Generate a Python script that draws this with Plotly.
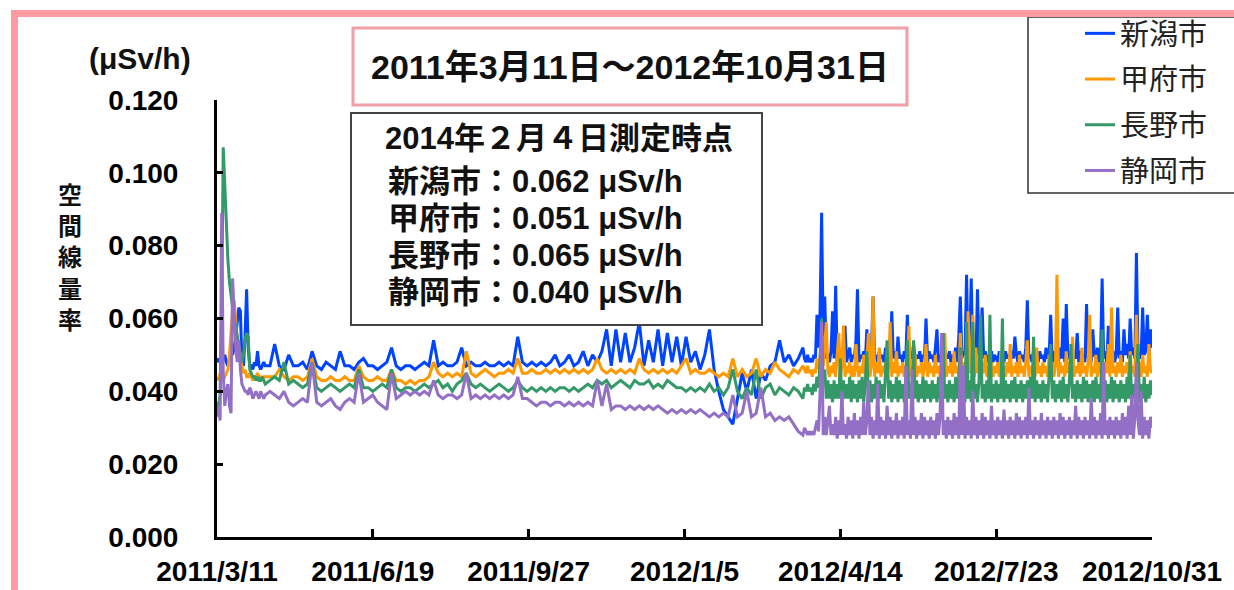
import pandas as pd
import numpy as np
import plotly.graph_objects as go

# ---------------- data (values in 0.001 μSv/h) ----------------
SERIES_NAMES = ["新潟市", "甲府市", "長野市", "静岡市"]
SERIES_COLORS = ["#0044ff", "#ff9900", "#339966", "#9370c5"]

# segment A : daily, 2011-03-11 .. 2011-04-11
DATES_A = pd.date_range("2011-03-11", periods=32, freq="D")
# segment B : every 3 days, 2011-04-14 .. 2012-03-21
DATES_B = pd.date_range("2011-04-14", periods=115, freq="3D")
# segment C : daily, 2012-03-22 .. 2012-10-31
DATES_C = pd.date_range("2012-03-22", periods=224, freq="D")

niigata_a = [48, 49, 48, 47, 49, 50, 48, 47, 49, 51, 50, 52, 55, 60, 63, 62, 48, 47, 55, 68,
             52, 47, 47, 46, 48, 47, 51, 47, 46, 47, 48, 47]
kofu_a = [44, 43, 45, 44, 43, 44, 45, 46, 50, 56, 62, 65, 60, 54, 52, 50, 47, 45, 46, 44,
          44, 45, 44, 43, 44, 44, 45, 44, 44, 43, 44, 44]
nagano_a = [37, 36, 39, 62, 107, 96, 84, 76, 70, 66, 63, 60, 58, 55, 52, 49, 48, 50, 54, 56,
            55, 46, 45, 44, 44, 43, 44, 43, 43, 44, 43, 42]
shizuoka_a = [33, 36, 32, 89, 45, 36, 40, 42, 36, 34, 71, 60, 52, 48, 54, 46, 42, 41, 40, 40,
              39, 41, 40, 38, 39, 40, 39, 38, 40, 39, 38, 39]

niigata_b = [47, 53, 47, 46, 50, 47, 47, 48, 46, 51,
             47, 46, 48, 47, 46, 51, 47, 47, 46, 48,
             49, 47, 47, 46, 47, 48, 52, 47, 46, 47,
             47, 46, 47, 48, 47, 54, 47, 48, 47, 47,
             48, 52, 47, 48, 47, 47, 48, 47, 47, 48,
             47, 48, 47, 55, 48, 47, 48, 47, 48, 47,
             48, 50, 47, 48, 50, 47, 48, 51, 47, 50,
             48, 51, 57, 47, 57, 48, 56, 48, 52, 59,
             47, 54, 48, 57, 47, 56, 48, 55, 47, 55,
             48, 51, 46, 50, 57, 46, 40, 35, 33, 31,
             38, 45, 40, 46, 38, 45, 43, 47, 48, 54,
             48, 50, 47, 49, 52]
kofu_b = [44, 44, 46, 44, 43, 44, 44, 43, 44, 49,
          44, 43, 43, 44, 43, 43, 44, 43, 43, 47,
          44, 43, 43, 44, 43, 43, 46, 43, 43, 42,
          43, 42, 43, 43, 44, 48, 45, 44, 45, 44,
          45, 44, 51, 45, 44, 45, 46, 45, 44, 45,
          45, 46, 45, 49, 45, 45, 46, 45, 45, 46,
          45, 46, 45, 46, 45, 46, 45, 46, 45, 46,
          49, 46, 45, 46, 45, 46, 45, 46, 45, 49,
          46, 45, 46, 45, 46, 45, 46, 45, 47, 49,
          45, 46, 45, 45, 46, 45, 44, 45, 44, 49,
          44, 46, 44, 45, 49, 44, 46, 45, 48, 46,
          45, 44, 46, 45, 47]
nagano_b = [43, 44, 43, 48, 42, 43, 42, 41, 42, 48,
            41, 40, 41, 42, 41, 40, 41, 42, 41, 46,
            41, 41, 40, 41, 42, 41, 46, 41, 40, 41,
            41, 40, 41, 42, 41, 42, 43, 41, 42, 40,
            42, 43, 45, 42, 41, 42, 41, 40, 41, 42,
            41, 40, 41, 43, 41, 40, 41, 40, 41, 40,
            41, 40, 41, 41, 40, 41, 40, 41, 42, 41,
            43, 42, 43, 41, 42, 43, 42, 41, 43, 42,
            42, 43, 41, 42, 41, 43, 42, 41, 41, 40,
            41, 40, 41, 40, 42, 40, 41, 39, 41, 46,
            40, 38, 41, 39, 46, 38, 41, 42, 39, 41,
            40, 39, 41, 40, 38]
shizuoka_b = [40, 39, 38, 40, 37, 36, 37, 38, 37, 48,
              37, 36, 37, 38, 36, 35, 37, 38, 37, 45,
              37, 38, 39, 37, 36, 35, 45, 38, 39, 40,
              39, 40, 39, 40, 39, 43, 39, 38, 39, 39,
              38, 39, 45, 38, 39, 38, 39, 38, 39, 38,
              39, 38, 39, 44, 38, 38, 37, 36, 37, 37,
              36, 37, 37, 36, 37, 36, 37, 36, 37, 36,
              43, 36, 42, 35, 36, 36, 35, 36, 35, 36,
              35, 36, 35, 36, 35, 34, 35, 34, 35, 34,
              35, 34, 35, 34, 33, 34, 33, 34, 33, 39,
              33, 34, 40, 33, 34, 41, 33, 34, 32, 33,
              32, 33, 31, 29, 28]

niigata_c = [49, 48, 50, 48, 49, 48, 50, 49, 61, 52, 62, 89,
             55, 66, 49, 50, 48, 51, 62, 49, 69, 48,
             51, 48, 50, 49, 58, 48, 50, 52, 48, 50,
             49, 54, 68, 48, 50, 49, 51, 48, 57, 50,
             48, 52, 66, 49, 50, 48, 51, 49, 50, 48,
             52, 49, 50, 48, 62, 49, 51, 48, 55, 49,
             50, 48, 51, 49, 61, 48, 50, 49, 53, 48,
             50, 49, 51, 48, 50, 49, 60, 48, 51, 49,
             50, 48, 52, 57, 48, 50, 49, 51, 48, 50,
             49, 51, 48, 50, 49, 52, 48, 55, 66, 49,
             51, 50, 72, 49, 52, 71, 50, 54, 48, 68,
             50, 52, 63, 49, 51, 48, 50, 49, 51, 48,
             50, 49, 48, 51, 49, 50, 48, 51, 49, 50,
             48, 51, 49, 55, 50, 48, 51, 49, 50, 48,
             52, 65, 49, 50, 48, 51, 49, 50, 48, 51,
             49, 50, 48, 52, 49, 50, 61, 48, 51, 49,
             50, 48, 52, 49, 60, 48, 64, 50, 49, 51,
             48, 50, 49, 56, 48, 51, 49, 50, 48, 64,
             49, 51, 48, 57, 50, 49, 52, 48, 50, 71,
             49, 51, 48, 58, 50, 49, 51, 48, 50, 63,
             49, 51, 48, 57, 50, 53, 49, 60, 50, 52,
             49, 78, 51, 50, 49, 63, 50, 51, 61, 50,
             57, 52]
kofu_c = [46, 45, 47, 45, 46, 44, 46, 45, 49, 46, 50, 55,
          47, 52, 59, 46, 44, 47, 45, 48, 44, 50,
          56, 44, 47, 58, 44, 47, 45, 48, 44, 47,
          44, 53, 46, 44, 47, 45, 50, 44, 48, 56,
          44, 47, 66, 44, 48, 45, 52, 44, 47, 45,
          48, 44, 47, 59, 44, 48, 45, 51, 44, 47,
          45, 48, 44, 47, 45, 58, 44, 47, 45, 50,
          44, 47, 45, 48, 44, 47, 53, 44, 48, 45,
          47, 44, 50, 45, 47, 44, 48, 45, 56, 44,
          47, 45, 48, 44, 51, 45, 47, 44, 56, 45,
          48, 44, 47, 62, 45, 48, 61, 44, 52, 45,
          48, 44, 47, 45, 50, 44, 47, 45, 48, 44,
          47, 45, 48, 44, 51, 45, 47, 44, 48, 45,
          53, 44, 47, 45, 48, 44, 50, 45, 47, 44,
          48, 54, 44, 47, 45, 48, 44, 52, 45, 47,
          44, 48, 45, 47, 44, 50, 45, 48, 44, 47,
          72, 44, 48, 45, 47, 44, 51, 45, 48, 44,
          55, 44, 47, 45, 48, 44, 52, 45, 47, 44,
          48, 61, 44, 47, 45, 50, 44, 48, 45, 47,
          44, 48, 45, 53, 44, 63, 45, 47, 44, 48,
          45, 50, 44, 47, 45, 48, 44, 51, 45, 47,
          44, 61, 45, 48, 44, 50, 45, 47, 44, 53,
          46, 45]
nagano_c = [41, 40, 42, 40, 41, 39, 42, 40, 44, 41, 48, 60,
            42, 46, 38, 43, 38, 42, 37, 43, 38, 42,
            38, 49, 37, 43, 38, 42, 38, 44, 37, 43,
            38, 42, 37, 43, 38, 44, 37, 42, 51, 38,
            43, 37, 42, 38, 44, 37, 43, 38, 42, 37,
            46, 54, 38, 43, 37, 42, 38, 44, 37, 43,
            38, 42, 37, 43, 54, 38, 42, 37, 54, 38,
            43, 37, 42, 38, 44, 37, 43, 38, 42, 37,
            43, 38, 42, 37, 44, 38, 43, 56, 38, 42,
            37, 43, 38, 42, 37, 44, 38, 43, 52, 38,
            42, 37, 59, 38, 43, 37, 59, 38, 42, 37,
            43, 61, 38, 42, 37, 43, 38, 61, 37, 42,
            38, 43, 37, 42, 38, 60, 37, 43, 38, 42,
            37, 43, 38, 44, 37, 42, 38, 43, 37, 42,
            38, 43, 37, 44, 38, 55, 37, 43, 38, 42,
            37, 43, 38, 42, 37, 46, 53, 38, 43, 37,
            42, 38, 43, 37, 44, 38, 42, 37, 43, 53,
            38, 42, 37, 43, 38, 42, 37, 44, 38, 43,
            37, 42, 38, 43, 37, 44, 38, 42, 37, 57,
            38, 43, 37, 42, 38, 44, 37, 43, 38, 42,
            37, 43, 38, 42, 37, 44, 38, 50, 37, 42,
            38, 43, 53, 37, 42, 38, 44, 37, 42, 38,
            43, 39]
shizuoka_c = [30, 29, 28, 29, 28, 29, 28, 30, 32, 29, 40, 59,
              28, 33, 28, 32, 36, 28, 31, 28, 33, 27,
              32, 28, 40, 28, 31, 27, 33, 28, 32, 27,
              34, 28, 32, 27, 33, 28, 37, 28, 32, 43,
              28, 33, 27, 32, 28, 42, 27, 33, 28, 32,
              27, 36, 28, 33, 27, 32, 28, 34, 27, 32,
              28, 33, 27, 47, 28, 32, 27, 46, 28, 33,
              27, 32, 28, 34, 27, 33, 28, 32, 27, 33,
              28, 32, 27, 34, 28, 33, 56, 28, 32, 27,
              33, 28, 32, 27, 34, 28, 33, 27, 50, 28,
              47, 27, 33, 28, 32, 27, 40, 28, 33, 27,
              32, 28, 34, 27, 33, 28, 32, 27, 36, 28,
              32, 27, 33, 28, 32, 27, 35, 28, 32, 27,
              33, 28, 32, 27, 34, 28, 33, 27, 32, 28,
              33, 27, 41, 28, 32, 27, 33, 28, 32, 27,
              34, 28, 32, 27, 33, 28, 32, 27, 33, 28,
              32, 27, 34, 28, 33, 27, 32, 28, 33, 27,
              32, 28, 36, 27, 33, 28, 32, 27, 33, 28,
              32, 27, 38, 28, 33, 27, 32, 28, 34, 27,
              48, 28, 32, 27, 33, 28, 32, 27, 33, 28,
              32, 27, 34, 28, 33, 27, 36, 28, 39, 27,
              33, 48, 32, 28, 40, 27, 33, 28, 32, 27,
              33, 30]

SERIES_SEGMENTS = [
    (niigata_a, niigata_b, niigata_c),
    (kofu_a, kofu_b, kofu_c),
    (nagano_a, nagano_b, nagano_c),
    (shizuoka_a, shizuoka_b, shizuoka_c),
]

TICK_DATES = ["2011-03-11", "2011-06-19", "2011-09-27", "2012-01-05",
              "2012-04-14", "2012-07-23", "2012-10-31"]
TICK_LABELS = ["2011/3/11", "2011/6/19", "2011/9/27", "2012/1/5",
               "2012/4/14", "2012/7/23", "2012/10/31"]

INFO_TITLE = "2014年２月４日測定時点"
INFO_VALUES = ["0.062", "0.051", "0.065", "0.040"]
MAIN_TITLE = "2011年3月11日～2012年10月31日"

# ---------------- figure ----------------
W, H = 1234, 590
L, R, T, B = 217, 1152, 100, 537
FONT = "Liberation Sans, Arial, Noto Sans CJK JP, sans-serif"


def px(x):
    return (x - L) / (R - L)


def py(y):
    return (B - y) / (B - T)


dates_all = list(DATES_A) + list(DATES_B) + list(DATES_C)
fig = go.Figure()
for name, color, (sa, sb, sc) in zip(SERIES_NAMES, SERIES_COLORS, SERIES_SEGMENTS):
    for seg, d in ((sa, DATES_A), (sb, DATES_B), (sc, DATES_C)):
        if len(seg) != len(d):
            raise ValueError(f"{name}: {len(seg)} values vs {len(d)} dates")
    vals = np.array(sa + sb + sc) / 1000.0
    fig.add_trace(go.Scatter(
        x=dates_all, y=vals, mode="lines", name=name, legendgroup=name,
        line=dict(color=color, width=3), hoverinfo="x+y",
    ))

fig.update_layout(
    width=W, height=H,
    margin=dict(l=L, r=W - R, t=T, b=H - B, pad=0, autoexpand=False),
    paper_bgcolor="white", plot_bgcolor="white",
    font=dict(family=FONT, color="black"),
    showlegend=True,
    legend=dict(
        x=px(1080), y=py(8), xanchor="left", yanchor="top",
        bgcolor="rgba(0,0,0,0)", borderwidth=0,
        font=dict(family=FONT, size=29, color="#222222"),
        tracegroupgap=5, itemwidth=30,
    ),
    xaxis=dict(
        type="date", range=["2011-03-11", "2012-10-31"], automargin=False,
        tickvals=TICK_DATES, ticktext=TICK_LABELS,
        ticks="inside", ticklen=8, tickwidth=2.5, tickcolor="black",
        showline=True, linewidth=3, linecolor="black",
        showgrid=False, zeroline=False,
        tickfont=dict(family=FONT, size=28, color="black", weight="bold"),
        ticklabelstandoff=7,
    ),
    yaxis=dict(
        range=[0, 0.12], dtick=0.02, tick0=0, tickformat=".3f", automargin=False,
        ticks="inside", ticklen=6, tickwidth=2.5, tickcolor="black",
        showline=True, linewidth=3, linecolor="black",
        showgrid=False, zeroline=False,
        tickfont=dict(family=FONT, size=28, color="black", weight="bold"),
        ticklabelstandoff=30,
    ),
)

shapes = [
    # legend frame
    dict(type="rect", xref="paper", yref="paper", x0=px(1028), x1=px(1245), y0=py(193), y1=py(17),
         line=dict(color="#333333", width=1.5), fillcolor="white", layer="above"),
    # title frame
    dict(type="rect", xref="paper", yref="paper", x0=px(353), x1=px(907), y0=py(105), y1=py(28),
         line=dict(color="#ef9fa6", width=3), fillcolor="white", layer="above"),
    # info frame
    dict(type="rect", xref="paper", yref="paper", x0=px(351), x1=px(762), y0=py(325), y1=py(113),
         line=dict(color="#444444", width=2), fillcolor="white", layer="above"),
    # outer pink frame
    dict(type="rect", xref="paper", yref="paper", x0=px(14.5), x1=px(1260), y0=py(620), y1=py(13.5),
         line=dict(color="#ff9aa2", width=7), fillcolor="rgba(0,0,0,0)", layer="above"),
]
fig.update_layout(shapes=shapes)

ann = [
    dict(text="(μSv/h)", x=px(140), y=py(58), size=30),
    dict(text="空<br>間<br>線<br>量<br>率", x=px(70), y=py(258), size=24),
    dict(text=MAIN_TITLE, x=px(630), y=py(67), size=34),
    dict(text=INFO_TITLE, x=px(559), y=py(138), size=31),
]
annotations = []
for a in ann:
    annotations.append(dict(
        text=a["text"], x=a["x"], y=a["y"], xref="paper", yref="paper",
        xanchor="center", yanchor="middle", showarrow=False, align="center",
        font=dict(family=FONT, size=a["size"], color="#111111", weight="bold"),
    ))
for i, (name, val) in enumerate(zip(SERIES_NAMES, INFO_VALUES)):
    yc = 182 + i * 36.7
    annotations.append(dict(
        text=f"{name}：{val} μSv/h", x=px(386), y=py(yc), xref="paper", yref="paper",
        xanchor="left", yanchor="middle", showarrow=False,
        font=dict(family=FONT, size=31, color="#111111", weight="bold"),
    ))
fig.update_layout(annotations=annotations)

fig.write_html(
    "out.html",
    config={"displayModeBar": False},
    post_script="document.body.style.margin='0';document.body.style.overflow='hidden';",
)
